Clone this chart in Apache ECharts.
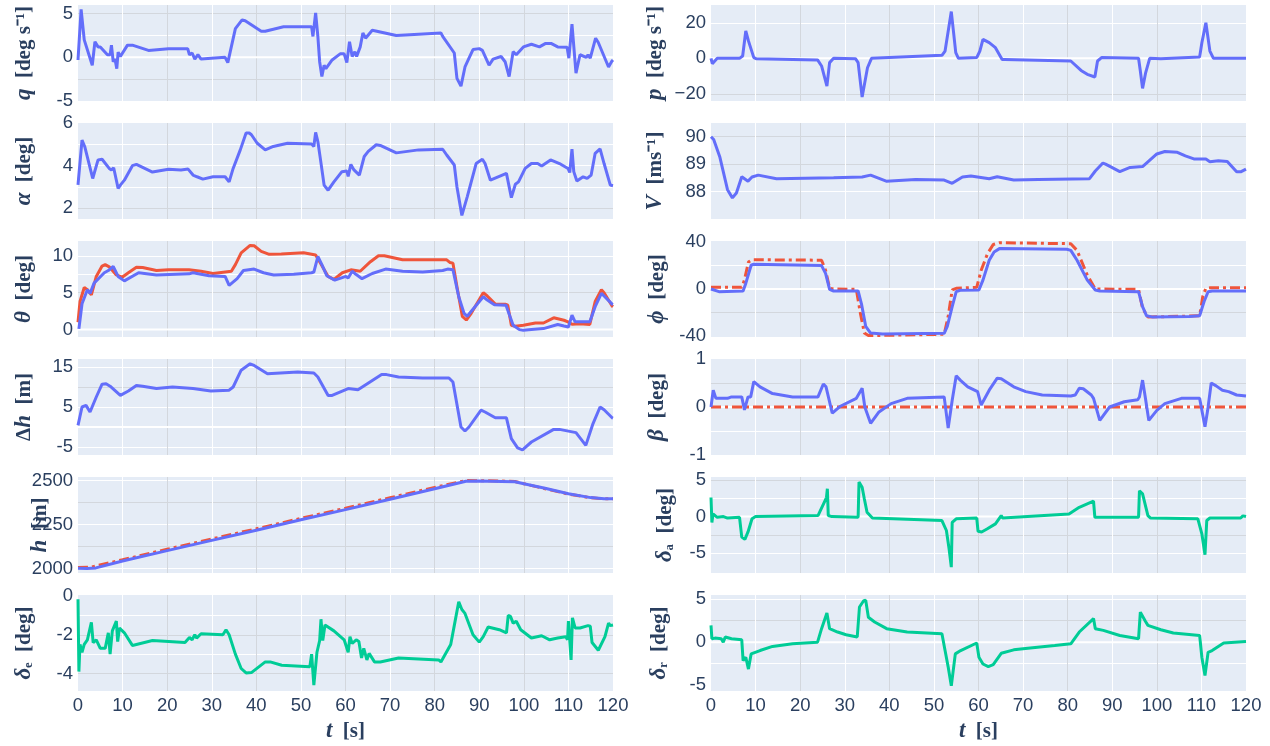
<!DOCTYPE html>
<html><head><meta charset="utf-8">
<script src="https://cdn.jsdelivr.net/npm/echarts@6/dist/echarts.min.js"></script>
<style>html,body{margin:0;padding:0;background:#fff}#c{width:1270px;height:746px}</style>
</head><body><div id="c"></div>
<script>
// ---------------- DATA (time [s], value) ----------------
const xTickLabels = [0,10,20,30,40,50,60,70,80,90,100,110,120];

const q = [[0,-0.3],[0.7,5.5],[1.4,2.0],[3.2,-0.9],[3.8,1.8],[4.5,1.2],[5.0,1.2],[6.6,0.3],[7.2,0.3],[7.5,1.4],[7.9,-0.5],[8.3,-0.2],[8.7,-1.3],[9.0,0.6],[9.5,0.1],[11.1,1.4],[12.2,1.4],[15.8,0.8],[20.3,1.0],[24.6,1.0],[25.0,0.3],[25.6,0.5],[26.2,-0.2],[26.9,0.3],[27.6,-0.2],[28.0,0.0],[33.0,0.0],[33.6,-0.6],[35.3,3.3],[35.7,3.5],[36.8,4.3],[37.5,4.2],[41.1,3.0],[42.0,3.0],[46.1,3.5],[52.4,3.5],[52.7,2.4],[53.3,5.1],[53.8,2.4],[54.2,-0.5],[54.7,-2.2],[55.2,-0.9],[55.6,-1.3],[57.0,-0.3],[58.8,0.4],[59.7,0.4],[60.3,-0.6],[60.9,1.8],[61.5,0.1],[62.1,0.65],[62.5,0.1],[63.3,1.2],[63.9,2.8],[64.5,2.2],[66.0,3.1],[71.4,2.5],[81.4,2.8],[81.8,2.4],[84.4,0.5],[85.0,-2.4],[85.4,-2.6],[85.9,-3.3],[86.8,-1.1],[87.7,-0.1],[88.6,0.9],[90.0,1.0],[90.7,0.8],[92.2,-0.9],[93.1,-0.2],[94.9,0.1],[95.8,-0.5],[96.7,-2.2],[97.6,0.65],[98.3,0.3],[99.9,1.2],[101.7,1.5],[103.5,1.2],[104.9,1.6],[106.1,1.6],[107.6,1.2],[109.7,1.15],[110.1,-0.1],[110.8,3.8],[111.7,-1.8],[112.6,0.3],[114.0,0.0],[114.4,0.3],[114.9,-0.1],[116.1,2.2],[116.7,1.7],[116.9,1.8],[119.0,-1.1],[119.8,-0.4],[120,-0.3]];

const alpha = [[0,3.1],[0.2,3.17],[0.9,5.2],[1.5,4.9],[3.3,3.4],[4.5,4.27],[5.4,4.3],[7.0,3.87],[7.5,3.8],[8.0,3.9],[9.0,2.93],[9.5,3.09],[10.4,3.32],[12.2,4.0],[13.1,4.06],[16.7,3.7],[20.3,3.83],[23.1,3.8],[24.7,3.84],[25.8,3.56],[26.7,3.48],[28.0,3.37],[30.3,3.48],[33.0,3.48],[33.9,3.24],[34.8,3.87],[36.4,4.74],[37.7,5.53],[38.4,5.53],[38.9,5.45],[40.2,5.05],[42.0,4.74],[43.8,4.9],[47.0,5.05],[52.4,5.02],[52.9,4.9],[53.3,5.56],[53.8,5.13],[54.4,4.27],[55.2,3.09],[56.1,2.85],[57.4,3.24],[59.2,3.72],[60.3,3.75],[60.6,3.5],[61.2,4.06],[61.9,3.8],[63.1,3.56],[64.2,4.43],[65.1,4.67],[66.9,4.98],[67.8,4.95],[71.4,4.6],[76.4,4.74],[81.8,4.77],[82.7,4.5],[84.4,4.03],[85.0,3.0],[86.1,1.67],[87.3,2.54],[89.3,4.1],[90.7,4.3],[91.3,4.1],[92.5,3.32],[96.1,3.64],[97.2,2.5],[98.1,3.13],[98.8,3.24],[100.3,3.87],[101.7,4.1],[103.1,4.1],[104.0,3.98],[106.0,4.27],[108.0,4.1],[109.9,3.87],[110.3,3.68],[110.8,4.77],[111.2,3.72],[111.9,3.28],[113.3,3.48],[114.2,3.4],[115.1,3.56],[116.0,4.58],[117.1,4.79],[118.0,4.1],[119.4,3.09],[120,3.06]];

const thetaRef = [[0,1.0],[0.45,3.8],[1.4,5.7],[2.1,5.4],[3.0,4.7],[4.1,7.2],[5.4,8.6],[6.1,8.8],[7.0,8.5],[8.6,7.4],[9.9,7.1],[11.3,7.7],[13.1,8.45],[14.5,8.4],[17.6,8.0],[20.3,8.1],[24.9,8.1],[27.6,7.9],[30.3,7.6],[34.4,7.9],[35.3,8.8],[36.6,10.4],[38.6,11.4],[39.5,11.35],[41.1,10.6],[42.9,10.2],[45.6,10.25],[50.6,10.4],[53.3,10.1],[54.2,9.2],[56.1,7.2],[57.4,6.8],[59.3,7.7],[61.2,8.1],[63.3,7.9],[65.6,9.2],[67.4,10.0],[68.7,10.0],[72.8,9.45],[78.2,9.45],[82.7,9.45],[83.4,9.1],[84.1,9.0],[85.0,5.8],[86.2,1.8],[87.1,1.3],[88.2,2.2],[90.9,5.0],[91.8,4.55],[93.6,3.45],[95.8,3.45],[96.4,3.3],[97.2,0.6],[98.1,0.45],[99.9,0.6],[102.6,0.9],[104.4,0.9],[106.7,1.6],[109.0,1.27],[109.9,1.05],[110.8,0.73],[112.6,0.8],[114.8,0.7],[116.0,3.8],[117.4,5.4],[118.0,5.0],[119.8,3.2],[120,3.1]];

const theta = [[0.2,0.1],[0.9,3.5],[2.1,5.4],[2.7,4.9],[3.6,6.3],[5.9,7.7],[6.8,8.0],[7.9,8.55],[9.0,7.2],[10.4,6.6],[13.6,7.7],[17.6,7.4],[24.9,7.55],[25.8,7.7],[29.4,7.3],[33.0,7.2],[33.9,6.0],[35.7,6.9],[37.1,8.0],[39.5,8.2],[41.6,7.7],[43.9,7.4],[48.4,7.5],[52.4,7.7],[52.9,7.8],[53.8,9.9],[54.7,8.8],[55.8,7.3],[57.6,6.7],[60.1,7.2],[60.6,7.0],[61.5,7.9],[62.4,7.45],[63.7,6.9],[66.0,7.6],[69.0,8.2],[72.8,7.9],[77.3,7.8],[81.8,8.0],[82.9,8.2],[84.1,8.1],[85.4,4.45],[86.6,2.2],[87.3,1.8],[90.9,4.45],[91.8,4.0],[93.4,3.36],[96.0,3.3],[96.7,2.1],[97.6,0.6],[99.0,0.0],[99.9,-0.1],[101.7,0.0],[104.4,0.14],[107.6,0.7],[109.0,0.5],[110.0,0.36],[110.8,1.95],[111.5,1.05],[112.6,1.05],[114.8,1.05],[116.0,3.1],[117.4,4.9],[118.0,4.55],[119.8,3.45],[120,3.4]];

const dh = [[0,0.4],[0.9,5.0],[1.8,5.4],[2.7,3.75],[4.1,7.5],[5.4,10.7],[6.3,10.8],[7.2,10.2],[9.5,7.9],[11.3,9.0],[13.1,10.4],[14.5,10.2],[17.6,9.6],[21.2,10.0],[25.8,9.6],[29.8,9.0],[33.9,9.2],[34.8,10.0],[36.6,14.2],[38.6,15.8],[39.5,15.4],[42.5,13.3],[49.3,13.75],[52.9,13.5],[53.8,12.5],[56.1,7.9],[57.0,7.9],[60.6,9.6],[62.8,9.3],[68.1,13.1],[69.2,13.1],[71.9,12.5],[77.3,12.25],[83.2,12.25],[84.1,11.25],[85.9,0.0],[86.8,-1.0],[87.7,0.0],[90.4,4.2],[91.3,3.75],[93.6,2.3],[96.1,2.3],[97.2,-2.9],[98.6,-5.2],[99.7,-5.7],[101.7,-3.75],[106.7,-0.6],[108.0,-0.6],[111.7,-1.4],[113.9,-4.6],[115.5,0.8],[117.1,5.0],[118.0,4.3],[119.8,2.3],[120,2.2]];

const hRef = [[0,2006],[3,2009],[10,2050],[20,2110],[30,2168],[40,2226],[50,2285],[60,2343],[70,2402],[80,2461],[87,2500],[90,2499],[95,2497],[98,2494],[100,2482],[105,2452],[110,2423],[115,2402],[118,2396],[120,2396]];
const h = [[0,2002],[2,2000],[4,2004],[10,2043],[20,2102],[30,2160],[40,2218],[50,2277],[60,2335],[70,2394],[80,2453],[87,2496],[90,2497],[95,2495],[98,2493],[100,2482],[105,2455],[110,2425],[115,2403],[118,2396],[120,2396]];

const de = [[0,-0.17],[0.2,-3.9],[0.45,-2.5],[0.9,-2.9],[1.4,-2.5],[2.1,-2.26],[3.0,-1.36],[3.4,-2.4],[4.1,-2.26],[5.0,-2.7],[6.1,-2.7],[6.8,-1.9],[7.2,-3.0],[7.7,-1.8],[8.1,-1.9],[8.6,-1.3],[8.9,-2.35],[9.3,-1.65],[10.4,-1.9],[12.2,-2.55],[16.7,-2.3],[24.0,-2.4],[24.4,-2.5],[25.0,-2.14],[25.6,-2.26],[26.2,-2.0],[26.6,-2.17],[27.6,-1.95],[32.5,-2.0],[33.2,-1.74],[33.9,-2.0],[35.3,-3.0],[36.6,-3.74],[37.7,-3.97],[38.9,-3.95],[42.0,-3.4],[43.1,-3.4],[45.7,-3.57],[52.0,-3.65],[52.4,-3.0],[52.9,-4.6],[53.6,-2.9],[54.2,-2.3],[54.5,-1.2],[54.9,-2.3],[55.4,-1.5],[57.4,-1.8],[59.7,-2.26],[60.1,-2.35],[60.6,-2.9],[61.0,-2.1],[61.5,-2.45],[62.4,-2.26],[63.0,-2.35],[63.6,-3.2],[64.1,-2.7],[64.8,-3.3],[65.3,-2.96],[66.5,-3.4],[67.8,-3.4],[71.9,-3.2],[80.9,-3.3],[81.4,-3.4],[83.6,-2.5],[84.5,-1.4],[85.4,-0.3],[86.1,-0.7],[86.8,-0.9],[88.6,-2.0],[90.0,-2.38],[90.9,-2.1],[92.0,-1.6],[94.5,-1.74],[96.1,-1.9],[96.5,-1.0],[97.0,-1.05],[97.6,-1.4],[98.3,-1.3],[99.3,-1.74],[101.7,-2.17],[104.0,-2.05],[105.8,-2.26],[107.6,-2.17],[109.4,-2.1],[109.8,-2.26],[110.0,-1.3],[110.6,-3.3],[110.9,-1.13],[111.5,-1.65],[112.6,-1.65],[114.4,-1.53],[114.9,-1.56],[115.3,-2.4],[116.7,-2.8],[118.2,-2.1],[119.0,-1.4],[119.4,-1.53],[120,-1.5]];

const p = [[0,0],[0.3,-3.0],[1.4,0],[6.4,0],[7.1,1.3],[7.8,15.4],[8.4,9.8],[9.6,0.4],[10.1,-0.2],[23.9,-0.9],[24.8,-4.3],[26.0,-15.6],[26.6,-2.4],[27.5,0],[32.4,-0.2],[33.0,-2.4],[33.9,-21.8],[35.1,-5.3],[36.0,0],[51.8,1.7],[52.5,4.1],[53.9,26.3],[54.9,3.2],[55.5,0],[59.6,0.4],[60.3,4.1],[61.0,10.7],[62.4,8.8],[63.8,6.0],[65.3,-0.6],[65.8,-0.6],[80.7,-1.5],[83.0,-6.8],[84.4,-9.0],[86.1,-10.5],[86.7,-1.5],[87.6,0.4],[95.9,0],[96.3,-7.1],[96.8,-16.9],[97.5,-8.0],[98.4,0],[100.9,-0.2],[109.6,0.75],[110.1,8.8],[111.0,20.0],[111.9,4.1],[112.7,0],[120,0]];

const V = [[0,90.0],[0.6,89.9],[2.0,89.25],[3.7,88.07],[4.8,87.77],[5.7,87.95],[6.9,88.54],[8.3,88.38],[9.2,88.53],[10.6,88.6],[14.7,88.47],[27.5,88.5],[33.9,88.53],[35.8,88.6],[39.3,88.38],[45.9,88.44],[52.3,88.42],[54.1,88.3],[56.4,88.53],[58.3,88.57],[62.4,88.47],[64.2,88.54],[67.9,88.42],[73.4,88.44],[84.9,88.47],[86.2,88.75],[87.9,89.04],[88.5,89.0],[91.7,88.73],[94.0,88.88],[96.8,88.91],[100.0,89.37],[101.8,89.46],[104.6,89.43],[106.4,89.3],[108.3,89.19],[111.0,89.19],[111.9,89.09],[113.8,89.12],[115.8,89.1],[117.9,88.72],[118.8,88.72],[120,88.82]];

const phiRef = [[0,1.4],[6.9,1.4],[7.5,7.6],[8.4,23.0],[9.2,25.0],[24.8,24.6],[25.7,16.0],[26.6,0.6],[27.5,0],[32.6,-0.3],[33.5,-20.6],[34.4,-37.6],[35.3,-39.8],[52.3,-38.7],[53.2,-23.4],[54.1,-0.8],[55.0,0.6],[59.6,1.4],[60.6,16.0],[62.0,30.0],[63.3,38.0],[64.7,39.5],[80.7,38.7],[82.1,33.0],[84.4,11.9],[86.2,0],[95.9,-0.3],[96.8,-16.4],[98.0,-24.0],[109.6,-22.9],[110.3,-6.5],[111.0,0.6],[112.0,1.1],[120,1.1]];
const phi = [[0,0],[1.8,-2.3],[7.2,-1.7],[7.8,4.8],[9.0,20.3],[9.6,21.2],[24.8,20.0],[25.7,13.3],[26.6,-0.3],[27.5,-1.7],[33.0,-1.7],[33.8,-13.6],[34.7,-31.9],[35.8,-37.6],[38.5,-38.4],[52.3,-37.9],[53.0,-31.9],[54.1,-15.0],[55.0,-2.3],[55.9,-1.1],[60.1,-0.8],[61.0,7.6],[62.4,24.6],[63.5,31.6],[64.7,34.5],[79.8,33.9],[80.7,33.0],[82.1,24.6],[84.4,7.6],[86.2,-0.8],[87.2,-1.7],[95.9,-2.3],[96.8,-15.0],[97.7,-22.9],[99.1,-24.0],[107.3,-23.4],[109.6,-22.9],[110.6,-10.7],[111.5,-2.3],[112.4,-1.7],[120,-1.7]];

const betaRef = [[0,0],[120,0]];
const beta = [[0,0],[0.5,0.35],[1.1,0.18],[3.7,0.18],[4.6,0.21],[6.9,0.21],[7.5,-0.06],[8.3,0.21],[8.9,0.21],[9.6,0.53],[11.0,0.42],[13.8,0.28],[18.3,0.21],[24.0,0.21],[25.2,0.48],[25.8,0.42],[27.2,-0.13],[28.9,0.01],[32.6,0.18],[33.9,0.39],[34.5,0.0],[35.8,-0.34],[37.6,-0.11],[40.4,0.07],[44.0,0.18],[52.3,0.21],[53.2,-0.44],[54.1,0.14],[55.0,0.65],[55.9,0.56],[57.6,0.42],[59.8,0.32],[60.6,0.04],[62.4,0.35],[64.2,0.6],[65.1,0.59],[67.9,0.42],[70.6,0.32],[74.3,0.25],[80.7,0.23],[81.7,0.25],[82.6,0.39],[83.5,0.38],[85.3,0.25],[85.8,0.18],[87.2,-0.28],[89.4,0.0],[92.7,0.11],[95.7,0.15],[96.1,0.21],[96.8,0.56],[97.4,0.21],[98.2,-0.28],[100.0,-0.07],[101.8,0.07],[105.5,0.18],[109.6,0.18],[110.8,-0.41],[111.4,-0.07],[112.2,0.5],[113.3,0.44],[114.7,0.35],[116.1,0.32],[117.9,0.25],[120,0.23]];

const da = [[0,2.6],[0.2,-0.8],[0.45,0.36],[1.4,-0.1],[2.8,0.0],[3.2,0.14],[3.7,-0.2],[6.4,-0.1],[6.9,-2.8],[7.6,-3.1],[8.3,-2.1],[9.2,-0.3],[10.0,0],[24.0,0.14],[25.9,2.6],[26.1,3.8],[26.3,0.14],[27.1,0],[33.0,-0.1],[33.2,4.7],[33.9,4.0],[34.4,2.4],[35.0,0.6],[36.2,-0.2],[51.8,-0.54],[52.8,-1.9],[53.4,-4.4],[53.9,-6.9],[54.1,-0.8],[55.0,-0.3],[59.6,-0.2],[59.9,-2.0],[60.7,-2.1],[61.9,-1.7],[63.8,-1.0],[65.1,0.14],[65.4,-0.2],[80.3,0.36],[82.6,1.27],[85.8,2.1],[86.1,-0.1],[95.9,-0.1],[96.1,3.5],[96.8,3.1],[98.0,0.14],[98.6,-0.2],[109.2,-0.3],[110.1,-2.35],[110.8,-5.2],[111.2,-0.54],[111.9,-0.2],[118.8,-0.2],[119.3,0.1],[120,0]];

const dr = [[0,1.96],[0.2,0.4],[0.9,0.47],[2.3,0.4],[2.75,0],[3.2,0.6],[4.6,0.4],[6.9,0.27],[7.2,-2.16],[7.8,-1.76],[8.4,-3.14],[9.0,-1.37],[11.0,-0.98],[13.8,-0.5],[18.3,-0.2],[23.9,0],[24.8,1.57],[26.0,3.4],[26.6,1.57],[28.4,1.18],[30.3,0.86],[32.8,0.6],[33.3,4.1],[34.2,4.8],[34.7,4.9],[35.3,2.9],[36.7,2.35],[39.4,1.57],[44.0,1.18],[51.8,0.98],[52.5,-0.98],[53.2,-2.9],[53.9,-5.1],[54.8,-1.37],[56.0,-0.98],[59.6,-0.1],[60.1,-1.76],[61.0,-2.55],[62.2,-2.86],[63.3,-2.63],[65.1,-1.3],[67.9,-0.9],[71.6,-0.67],[77.1,-0.4],[80.7,-0.2],[82.6,1.18],[85.8,2.75],[86.2,1.57],[88.0,1.37],[91.7,0.78],[95.9,0.4],[96.3,3.5],[97.4,2.47],[98.0,1.96],[100.9,1.45],[103.7,1.06],[109.6,0.78],[110.1,-1.76],[110.8,-3.9],[111.5,-1.18],[112.4,-0.98],[115.0,-0.1],[120,0.08]];

// y tick labels per panel
const qTicks=[-5,0,5], alphaTicks=[2,4,6], thetaTicks=[0,5,10], dhTicks=[-5,5,15], hTicks=[2000,2250,2500], deTicks=[-4,-2,0];
const pTicks=[-20,0,20], VTicks=[88,89,90], phiTicks=[-40,0,40], betaTicks=[-1,0,1], daTicks=[-5,0,5], drTicks=[-5,0,5];
const zeroLine=[[0,0],[120,0]];

// ---------------- STYLE / LAYOUT ----------------
const BLUE='#636efa', RED='#EF553B', GREEN='#00cc96', INK='#2a3f5f';
const W='#ffffff', G='#d3d7dd', NONE='rgba(0,0,0,0)';
const COLX=[78,711], ROWY=[5,123,241,359,477,595], PW=535, PH=96;
const DASHDOT=[10,4,3,4];

const panels = [
 {c:0,r:0,name:'{i|q}{u|  [deg s⁻¹]}',gap:42,y:{min:-5,max:6,step:0.5,ticks:qTicks,grid:[[-2.5,G],[2.5,W],[5,G]]},zero:true,s:[{d:q,col:BLUE}]},
 {c:0,r:1,name:'{i|α}{u|  [deg]}',gap:42,y:{min:1.5,max:6,step:0.5,ticks:alphaTicks,grid:[[2,G],[3,W],[4,W],[5,W]]},s:[{d:alpha,col:BLUE}]},
 {c:0,r:2,name:'{i|θ}{u|  [deg]}',gap:42,y:{min:-1,max:12,step:0.5,ticks:thetaTicks,grid:[[2.5,W],[5,G],[7.5,W],[10,W]]},zero:true,s:[{d:thetaRef,col:RED},{d:theta,col:BLUE}]},
 {c:0,r:3,name:'{u|Δ}{i|h}{u|  [m]}',gap:42,y:{min:-7,max:17,step:1,ticks:dhTicks,grid:[[-5,W],[5,W],[10,G],[15,W]]},zero:true,s:[{d:dh,col:BLUE}]},
 {c:0,r:4,name:'{i|h}{u|  [m]}',gap:26,y:{min:1975,max:2520,step:5,ticks:hTicks,grid:[[2000,W],[2125,G],[2250,W],[2375,G],[2500,W]]},s:[{d:hRef,col:RED,dash:true},{d:h,col:BLUE}]},
 {c:0,r:5,name:'{i|δ}{u|ₑ  [deg]}',gap:42,y:{min:-4.9,max:0.05,step:0.05,ticks:deTicks,grid:[[-4,G],[-3,W],[-2,G],[-1,W]]},s:[{d:de,col:GREEN}]},
 {c:1,r:0,name:'{i|p}{u|  [deg s⁻¹]}',gap:44,minus:'−',y:{min:-24,max:30,step:2,ticks:pTicks,grid:[[-20,G],[20,W]]},zero:true,s:[{d:p,col:BLUE}]},
 {c:1,r:1,name:'{i|V}{u|  [ms⁻¹]}',gap:44,y:{min:87,max:90.5,step:0.5,ticks:VTicks,grid:[[88,W],[89,G],[90,G]]},s:[{d:V,col:BLUE}]},
 {c:1,r:2,name:'{i|ϕ}{u|  [deg]}',gap:42,y:{min:-41,max:41,step:1,ticks:phiTicks,grid:[[-20,G],[20,W]]},zero:true,s:[{d:phiRef,col:RED,dash:true},{d:phi,col:BLUE}]},
 {c:1,r:3,name:'{i|β}{u|  [deg]}',gap:42,y:{min:-1,max:1,step:0.5,ticks:betaTicks,grid:[[-0.5,W],[0.5,G]]},zero:true,s:[{d:betaRef,col:RED,dash:true},{d:beta,col:BLUE}]},
 {c:1,r:4,name:'{i|δ}{u|ₐ  [deg]}',gap:34,y:{min:-7.7,max:5.4,step:0.1,ticks:daTicks,grid:[[-5,W],[-2.5,G],[2.5,W],[5,G]]},zero:true,s:[{d:da,col:GREEN}]},
 {c:1,r:5,name:'{i|δ}{u|ᵣ  [deg]}',gap:40,y:{min:-5.7,max:5.5,step:0.1,ticks:drTicks,grid:[[-2.5,W],[2.5,G],[5,W]]},zero:true,s:[{d:dr,col:GREEN}]}
];
const xGrid=[[10,W],[20,G],[30,W],[40,G],[50,W],[60,G],[70,W],[80,G],[90,W],[100,G],[110,W]];

function lineColors(min,max,step,list){
  const n=Math.round((max-min)/step)+1, out=[];
  for(let k=0;k<n;k++){
    const v=min+k*step; let c=NONE;
    for(const [gv,gc] of list){ if(Math.abs(gv-v)<step*0.01) c=gc; }
    out.push(c);
  }
  return out;
}
function near(list,v,eps){ return list.find(t=>Math.abs(t-v)<eps); }

const titleRich = {
  i:{fontFamily:'Liberation Serif',fontStyle:'italic',fontWeight:'bold',fontSize:23,color:INK},
  u:{fontFamily:'Liberation Serif',fontWeight:'bold',fontSize:21,color:INK}
};
const lbl = {color:INK,fontSize:18.5,fontFamily:'Liberation Sans'};

const grid=[], xAxis=[], yAxis=[], series=[];
panels.forEach((P,i)=>{
  grid.push({left:COLX[P.c],top:ROWY[P.r],width:PW,height:PH,show:true,backgroundColor:'#E5ECF6',borderWidth:0,containLabel:false});
  const bottom = P.r===5;
  xAxis.push({type:'value',gridIndex:i,min:0,max:120,interval:10,
    axisLine:{show:false},axisTick:{show:false},
    splitLine:{show:true,lineStyle:{width:1,color:lineColors(0,120,10,xGrid)}},
    axisLabel:{show:bottom,margin:5,...lbl,formatter:v=>{const t=near(xTickLabels,v,0.01);return t===undefined?'':String(t);}},
    name:bottom?'{i|t}{u|  [s]}':'',nameLocation:'middle',nameGap:29,nameMoveOverlap:false,nameTextStyle:{rich:titleRich}
  });
  const Y=P.y;
  yAxis.push({type:'value',gridIndex:i,min:Y.min,max:Y.max,interval:Y.step,
    axisLine:{show:false},axisTick:{show:false},
    splitLine:{show:true,lineStyle:{width:1,color:lineColors(Y.min,Y.max,Y.step,Y.grid)}},
    axisLabel:{margin:5,...lbl,formatter:v=>{const t=near(Y.ticks,v,Y.step*0.01);if(t===undefined)return '';return t<0?(P.minus||'-')+String(-t):String(t);}},
    name:P.name,nameLocation:'middle',nameGap:P.gap,nameRotate:90,nameMoveOverlap:false,nameTextStyle:{rich:titleRich}
  });
  if(P.zero){
    series.push({type:'line',xAxisIndex:i,yAxisIndex:i,data:zeroLine,symbol:'none',silent:true,z:1,
      lineStyle:{color:'#ffffff',width:2}});
  }
  P.s.forEach(S=>{
    series.push({type:'line',xAxisIndex:i,yAxisIndex:i,data:S.d,symbol:'none',showSymbol:false,z:3,
      lineStyle:{color:S.col,width:3,type:S.dash?DASHDOT:'solid'},itemStyle:{color:S.col}});
  });
});

const chart = echarts.init(document.getElementById('c'),null,{renderer:'canvas'});
chart.setOption({animation:false,backgroundColor:'#ffffff',grid,xAxis,yAxis,series});
</script>
</body></html>
